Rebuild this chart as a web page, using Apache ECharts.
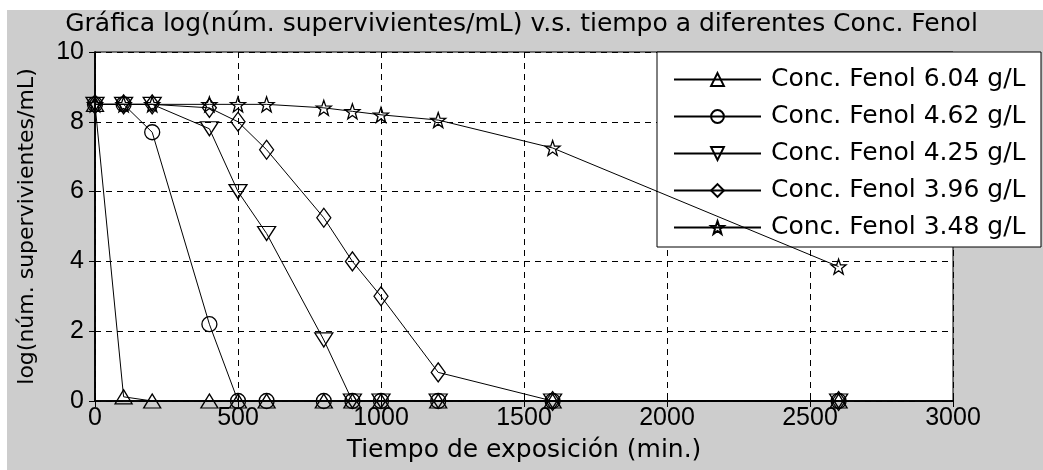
<!DOCTYPE html>
<html>
<head>
<meta charset="utf-8">
<script src="https://cdn.jsdelivr.net/npm/echarts@6/dist/echarts.min.js"></script>
<style>
html,body{margin:0;padding:0;background:#fff;}
#bg{position:absolute;left:7px;top:10px;width:1036px;height:460px;background:#cdcdcd;}
#chart{position:absolute;left:0;top:0;width:1043px;height:470px;}
</style>
</head>
<body>
<div id="bg"></div>
<div id="chart"></div>
<script>
const titleText = 'Gráfica log(núm. supervivientes/mL) v.s. tiempo a diferentes Conc. Fenol';
const xName = 'Tiempo de exposición (min.)';
const yName = 'log(núm. supervivientes/mL)';
const seriesNames = ['Conc. Fenol 6.04 g/L','Conc. Fenol 4.62 g/L','Conc. Fenol 4.25 g/L','Conc. Fenol 3.96 g/L','Conc. Fenol 3.48 g/L'];
const times = [0,100,200,400,500,600,800,900,1000,1200,1600,2600];
const fenol604 = [8.5,0.12,0,0,0,0,0,0,0,0,0,0];
const fenol462 = [8.5,8.5,7.7,2.2,0,0,0,0,0,0,0,0];
const fenol425 = [8.5,8.5,8.5,7.8,6.0,4.8,1.75,0,0,0,0,0];
const fenol396 = [8.5,8.5,8.5,8.4,8.0,7.2,5.25,4.0,3.0,0.82,0,0];
const fenol348 = [8.5,8.5,8.5,8.5,8.5,8.5,8.4,8.3,8.2,8.05,7.25,3.85];
const xTicks = {min:0, max:3000, interval:500};
const yTicks = {min:0, max:10, interval:2};

const allValues = [fenol604, fenol462, fenol425, fenol396, fenol348];
const symbols = [
  'triangle',
  'circle',
  'path://M-10,0 L10,0 L0,16 Z',
  'diamond',
  'path://M0,-10 L2.35,-3.24 L9.51,-3.09 L3.8,1.24 L5.88,8.09 L0,4 L-5.88,8.09 L-3.8,1.24 L-9.51,-3.09 L-2.35,-3.24 Z'
];
const sizes = [[17,14],15,[18,14],[14,19],15];

const chart = echarts.init(document.getElementById('chart'), null, {renderer:'canvas'});
const tickFont = {fontFamily:'Liberation Sans', fontSize:25, color:'#000'};
const dash = {type:[6,5], color:'#000', width:1};
const plain = v => String(v);

const series = allValues.map((vals, i) => ({
  name: seriesNames[i],
  type: 'line',
  data: times.map((t, k) => [t, vals[k]]),
  symbol: symbols[i],
  symbolSize: sizes[i],
  showAllSymbol: true,
  lineStyle: {color:'#000', width:1},
  itemStyle: {color:'rgba(255,255,255,0)', borderColor:'#000', borderWidth:1.3},
  emphasis: {disabled:true},
  z: 3 + i
}));

chart.setOption({
  animation: false,
  backgroundColor: 'transparent',
  title: {
    text: titleText, left: 'center', top: 7,
    textStyle: {fontFamily:'DejaVu Sans', fontSize:25, fontWeight:'normal', color:'#000'}
  },
  legend: {
    data: seriesNames,
    orient: 'vertical',
    left: 657, top: 52,
    padding: [15, 7, 7, 16],
    itemWidth: 87, itemHeight: 16, itemGap: 12,
    backgroundColor: '#fff', borderColor: '#000', borderWidth: 1,
    borderRadius: 0,
    selectedMode: false,
    textStyle: {fontFamily:'DejaVu Sans', fontSize:25, color:'#000', padding:[0,0,0,5], width:263, lineHeight:18}
  },
  grid: {left:95, right:90, top:52, bottom:69, show:true, backgroundColor:'#fff', borderColor:'#000', borderWidth:1},
  xAxis: [{
    type:'value', min:xTicks.min, max:xTicks.max, interval:xTicks.interval,
    name: xName, nameLocation:'middle', nameGap:37,
    nameTextStyle:{fontFamily:'DejaVu Sans', fontSize:25, color:'#000'},
    axisLine:{show:true, lineStyle:{color:'#000', width:1.5}},
    axisTick:{show:true, inside:true, length:6, lineStyle:{color:'#000'}},
    axisLabel:Object.assign({margin:5, formatter:plain}, tickFont),
    splitLine:{show:true, lineStyle:dash}
  },{
    type:'value', position:'top', min:xTicks.min, max:xTicks.max, interval:xTicks.interval,
    axisLine:{show:true, lineStyle:{color:'#000', width:1.5}},
    axisTick:{show:true, inside:true, length:6, lineStyle:{color:'#000'}},
    axisLabel:{show:false}, splitLine:{show:false}
  }],
  yAxis: [{
    type:'value', min:yTicks.min, max:yTicks.max, interval:yTicks.interval,
    name: yName, nameLocation:'middle', nameGap:57, nameRotate:90,
    nameTextStyle:{fontFamily:'DejaVu Sans', fontSize:22, color:'#000'},
    axisLine:{show:true, lineStyle:{color:'#000', width:1.5}},
    axisTick:{show:true, inside:true, length:6, lineStyle:{color:'#000'}},
    axisLabel:Object.assign({margin:11, formatter:plain}, tickFont),
    splitLine:{show:true, lineStyle:dash}
  },{
    type:'value', position:'right', min:yTicks.min, max:yTicks.max, interval:yTicks.interval,
    axisLine:{show:true, lineStyle:{color:'#000', width:1.5}},
    axisTick:{show:true, inside:true, length:6, lineStyle:{color:'#000'}},
    axisLabel:{show:false}, splitLine:{show:false}
  }],
  series: series
});
</script>
</body>
</html>
